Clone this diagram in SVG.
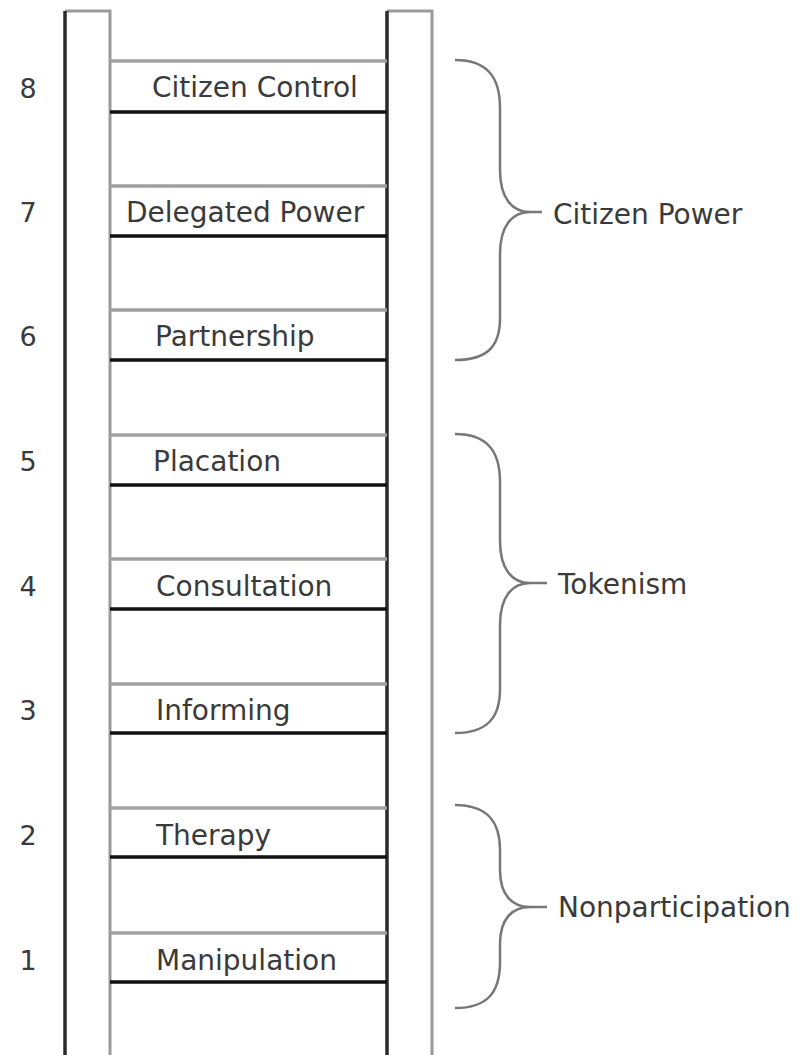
<svg xmlns="http://www.w3.org/2000/svg" width="802" height="1055" viewBox="0 0 802 1055">
<style>
.lbl{font-family:"DejaVu Sans",sans-serif;font-size:28px;fill:#3a3a3a}
.num{font-family:"DejaVu Sans",sans-serif;font-size:27px;fill:#3a3a3a;text-anchor:middle}
.dark{stroke:#2a2a2a;stroke-width:3.5;fill:none}
.light{stroke:#9a9a9a;stroke-width:3;fill:none}
.top{stroke:#a0a0a0;stroke-width:3.5}
.bot{stroke:#111;stroke-width:3.5}
.brace{stroke:#777;stroke-width:2.5;fill:none}
</style>
<rect width="802" height="1055" fill="#fff"/>
<g id="rails">
<path class="light" d="M65,11 H110 V1055"/>
<path class="dark" d="M65,11 V1055"/>
<path class="light" d="M387,11 H432 V1055"/>
<path class="dark" d="M387,11 V1055"/>
</g>
<g id="rung8"><line class="top" x1="110" y1="61" x2="387" y2="61"/><line class="bot" x1="110" y1="112" x2="387" y2="112"/><text class="lbl" x="152" y="97">Citizen Control</text><text class="num" x="28" y="98">8</text></g>
<g id="rung7"><line class="top" x1="110" y1="186" x2="387" y2="186"/><line class="bot" x1="110" y1="236" x2="387" y2="236"/><text class="lbl" x="126" y="222">Delegated Power</text><text class="num" x="28" y="222">7</text></g>
<g id="rung6"><line class="top" x1="110" y1="310" x2="387" y2="310"/><line class="bot" x1="110" y1="360" x2="387" y2="360"/><text class="lbl" x="155" y="346">Partnership</text><text class="num" x="28" y="346">6</text></g>
<g id="rung5"><line class="top" x1="110" y1="435" x2="387" y2="435"/><line class="bot" x1="110" y1="485" x2="387" y2="485"/><text class="lbl" x="153" y="471">Placation</text><text class="num" x="28" y="471">5</text></g>
<g id="rung4"><line class="top" x1="110" y1="559" x2="387" y2="559"/><line class="bot" x1="110" y1="609" x2="387" y2="609"/><text class="lbl" x="156" y="596">Consultation</text><text class="num" x="28" y="596">4</text></g>
<g id="rung3"><line class="top" x1="110" y1="684" x2="387" y2="684"/><line class="bot" x1="110" y1="733" x2="387" y2="733"/><text class="lbl" x="156" y="720">Informing</text><text class="num" x="28" y="720">3</text></g>
<g id="rung2"><line class="top" x1="110" y1="808" x2="387" y2="808"/><line class="bot" x1="110" y1="857" x2="387" y2="857"/><text class="lbl" x="156" y="845">Therapy</text><text class="num" x="28" y="845">2</text></g>
<g id="rung1"><line class="top" x1="110" y1="933" x2="387" y2="933"/><line class="bot" x1="110" y1="982" x2="387" y2="982"/><text class="lbl" x="156" y="970">Manipulation</text><text class="num" x="28" y="970">1</text></g>
<g id="connectors">
<path class="brace" d="M455,60 C488,60 500,78 500,108 L500,170 C500,198 512,212 530,212 L542,212 M530,212 C512,212 500,226 500,254 L500,318 C500,346 488,360 455,360"/>
<path class="brace" d="M455,434 C488,434 500,452 500,482 L500,541 C500,569 512,583 530,583 L547,583 M530,583 C512,583 500,597 500,625 L500,689 C500,717 488,733 455,733"/>
<path class="brace" d="M455,805 C488,805 500,822 500,850 L500,870 C500,895 512,907 530,907 L547,907 M530,907 C512,907 500,919 500,944 L500,962 C500,992 488,1008 455,1008"/>
</g>
<g id="group-citizen-power"><text class="lbl" x="553" y="224">Citizen Power</text></g>
<g id="group-tokenism"><text class="lbl" x="558" y="594">Tokenism</text></g>
<g id="group-nonparticipation"><text class="lbl" x="558" y="917">Nonparticipation</text></g>
</svg>
